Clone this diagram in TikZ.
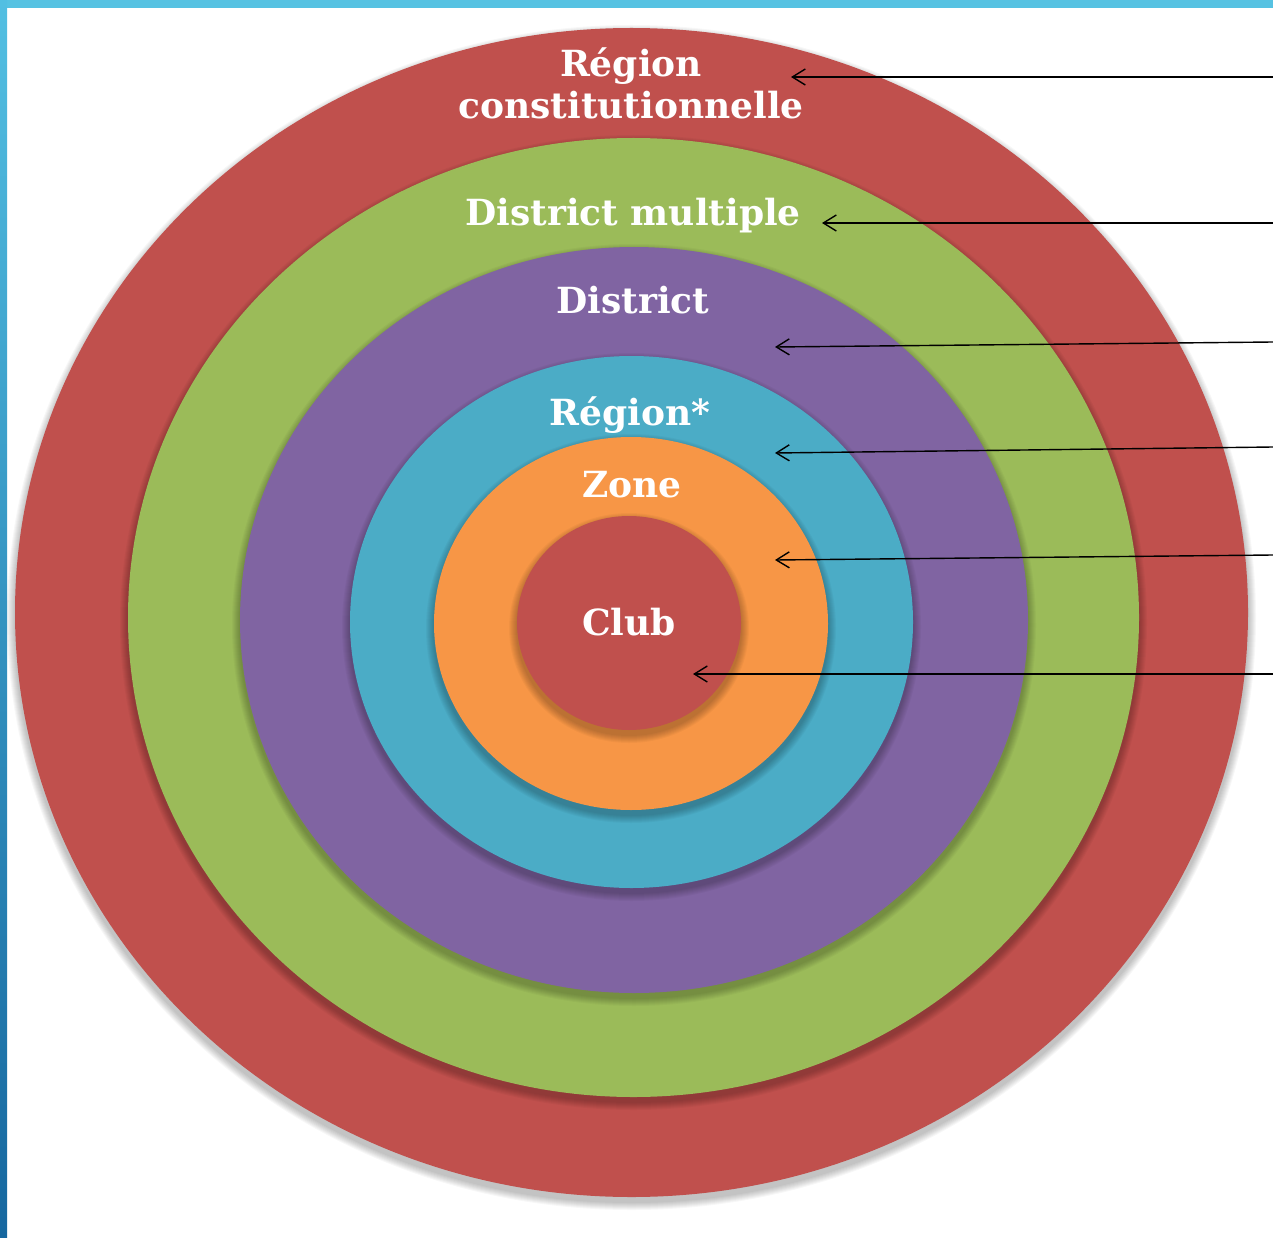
\documentclass[tikz,border=0pt]{standalone}
\usepackage{fontspec}
\setmainfont{DejaVu Serif}
\usetikzlibrary{arrows.meta}
\definecolor{ringred}{HTML}{C0504D}
\definecolor{ringgreen}{HTML}{9BBB59}
\definecolor{ringpurple}{HTML}{8064A2}
\definecolor{ringblue}{HTML}{4BACC6}
\definecolor{ringorange}{HTML}{F79646}
\definecolor{topbar}{HTML}{56C2E2}
\definecolor{barlight}{HTML}{52BFE2}
\definecolor{bardark}{HTML}{16679F}
\newcommand{\myring}[5]{%
  \foreach \k in {1,...,8}{%
    \fill[black,opacity=0.03] (#1,#2+5) ellipse [x radius=#3pt+\k pt, y radius=#4pt+\k pt];}
  \fill[#5] (#1,#2) ellipse [x radius=#3pt, y radius=#4pt];}
\begin{document}
\begin{tikzpicture}[x=1pt,y=-1pt,
  lbl/.style={text=white,font=\fontsize{36}{42}\selectfont\bfseries,anchor=base,inner sep=0pt},
  ptr/.style={draw=black,line width=1.4pt,-{Straight Barb[length=13pt,width=16pt]}}]
\useasboundingbox (0,0) rectangle (1273,1238);
\fill[white] (0,0) rectangle (1273,1238);
% rings
\myring{631.5}{612.5}{616.5}{584.5}{ringred}
\myring{633.5}{617.5}{505.5}{479.5}{ringgreen}
\myring{634}{620}{394}{373}{ringpurple}
\myring{631.5}{622}{281.5}{266}{ringblue}
\myring{631}{623.5}{197}{186.5}{ringorange}
\myring{629}{623}{112}{107}{ringred}
% frame
\fill[topbar] (0,0) rectangle (1273,8);
\shade[top color=barlight,bottom color=bardark] (0,0) rectangle (7,1238);
% labels
\node[lbl] (lregc) at (631,77) {Région};
\node[lbl] (lregc2) at (631,119) {constitutionnelle};
\node[lbl] (ldm) at (633,226) {District multiple};
\node[lbl] (ld) at (633,313) {District};
\node[lbl] (lr) at (630,425) {Région*};
\node[lbl] (lz) at (632,497) {Zone};
\node[lbl] (lc) at (629,635) {Club};
% arrow ends
\coordinate (s1) at (1273,77);  \coordinate (t1) at (791,77);
\coordinate (s2) at (1273,223); \coordinate (t2) at (822,223);
\coordinate (s3) at (1273,342); \coordinate (t3) at (775,347);
\coordinate (s4) at (1273,447); \coordinate (t4) at (775,453);
\coordinate (s5) at (1273,555); \coordinate (t5) at (775,560);
\coordinate (s6) at (1273,674); \coordinate (t6) at (693,674);
\foreach \i in {1,...,6}{\draw[ptr] (s\i) -- (t\i);}
\end{tikzpicture}
\end{document}
